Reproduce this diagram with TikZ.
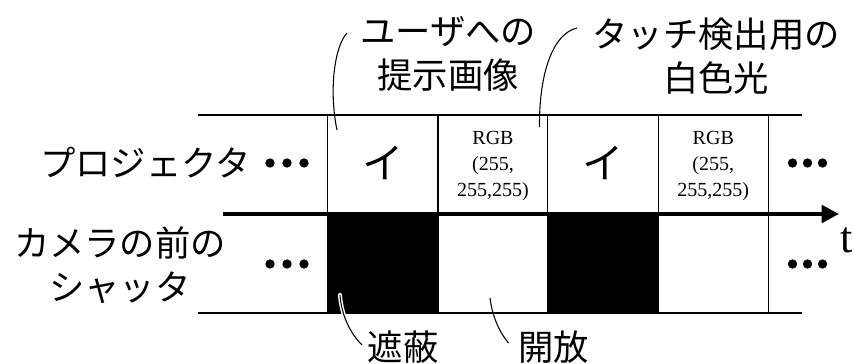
\documentclass[tikz,border=0pt]{standalone}
\usepackage{fontspec}
\setmainfont{Liberation Serif}
\newfontfamily\jp{Noto Sans CJK JP}
\usetikzlibrary{arrows.meta}
\begin{document}
\begin{tikzpicture}[x=0.75pt,y=-0.75pt,
  thinline/.style={line width=1pt,black},
  callout/.style={line width=0.8pt,black},
  jplabel/.style={font=\jp\fontsize{26.5pt}{33pt}\selectfont,align=center,inner sep=0pt},
  rgbtext/.style={font=\fontsize{15pt}{19.5pt}\selectfont,align=center,inner sep=0pt},
  bigchar/.style={font=\jp\fontsize{31pt}{31pt}\selectfont,inner sep=0pt},
  dotmark/.style={circle,fill=black,inner sep=0pt,minimum size=7pt}]
\useasboundingbox (0,0) rectangle (854,364);
% black shutter blocks
\fill[black] (327.5,214) rectangle (438,313);
\fill[black] (547.7,214) rectangle (658.3,313);
% horizontal lines
\coordinate (tl) at (198,115); \coordinate (tr) at (802,115);
\coordinate (bl) at (198,313); \coordinate (br) at (802,313);
\draw[thinline] (tl) -- (tr);
\draw[thinline] (bl) -- (br);
% vertical lines
\foreach \x in {327.5,438,547.7,658.3,768.3}{
  \draw[thinline] (\x,115) -- (\x,313);
}
% time axis
\coordinate (ax0) at (223,214); \coordinate (ax1) at (839,214);
\draw[line width=3pt,-{Triangle[length=13pt,width=13pt]}] (ax0) -- (ax1);
\node[font=\fontsize{33pt}{33pt}\selectfont,inner sep=0pt] (t) at (847,240) {t};
% row labels
\node[jplabel] (proj) at (145.5,163) {プロジェクタ};
\node[jplabel] (cam) at (120,265) {カメラの前の\\シャッタ};
% dots
\foreach \x [count=\i] in {270,287,304}{
  \node[dotmark] (ld\i) at (\x,163) {};
  \node[dotmark] (lb\i) at (\x,264) {};
}
\foreach \x [count=\i] in {792.5,807.5,822.5}{
  \node[dotmark] (rd\i) at (\x,163) {};
  \node[dotmark] (rb\i) at (\x,264) {};
}
% projector frames
\node[bigchar] (i1) at (383,163) {イ};
\node[bigchar] (i2) at (603,163) {イ};
\node[rgbtext] (rgb1) at (493,166) {RGB\\(255,\\255,255)};
\node[rgbtext] (rgb2) at (713.3,166) {RGB\\(255,\\255,255)};
% top labels
\node[jplabel] (lab1) at (448,54) {ユーザへの\\提示画像};
\node[jplabel] (lab2) at (716,56) {タッチ検出用の\\白色光};
% bottom labels
\node[jplabel] (lab3) at (403,347) {遮蔽};
\node[jplabel] (lab4) at (553.5,347) {開放};
% callouts
\coordinate (c1a) at (347,33); \coordinate (c1b) at (337,130);
\draw[callout] (c1a) .. controls (334,47) and (329,92) .. (c1b);
\coordinate (c2a) at (577,28); \coordinate (c2b) at (539.5,127);
\draw[callout] (c2a) .. controls (552,34) and (539,75) .. (c2b);
\coordinate (c3a) at (340,295); \coordinate (c3b) at (362,345);
\draw[white,line width=3pt,line cap=round] (c3a) .. controls (341,310) and (347,330) .. (c3b);
\draw[callout] (c3a) .. controls (341,310) and (347,330) .. (c3b);
\coordinate (c4a) at (490,298); \coordinate (c4b) at (508.5,343);
\draw[callout] (c4a) .. controls (492,315) and (499,332) .. (c4b);
\end{tikzpicture}
\end{document}
